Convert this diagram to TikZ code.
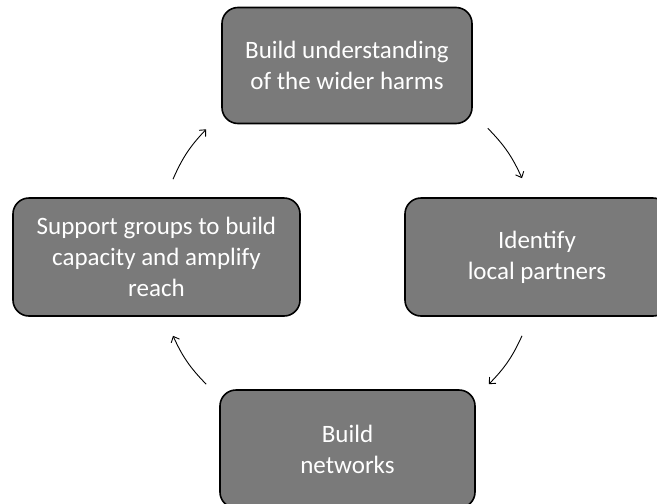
\documentclass[tikz,border=0pt]{standalone}
\usepackage{fontspec}
\setmainfont{Carlito}
\usepackage{tikz}
\usetikzlibrary{arrows.meta,positioning}

\begin{document}
\begin{tikzpicture}[
    x=1pt,y=-1pt,
    box/.style={rectangle,draw=black,line width=1.6pt,rounded corners=16pt,fill=black!52,
        text=white,align=center,font=\fontsize{25}{31}\selectfont},
    arrow/.style={-{Straight Barb[length=5pt,width=9pt]},line width=0.9pt,bend left=10}
]
    \clip (0,0) rectangle (657,504);

    \node[box,minimum width=250pt,minimum height=116pt] (harms) at (347,65.5) {Build understanding\\of the wider harms};
    \node[box,minimum width=264pt,minimum height=118pt] (partners) at (537,257) {Identify\\local partners};
    \node[box,minimum width=255pt,minimum height=118pt] (networks) at (347.5,449) {Build\\networks};
    \node[box,minimum width=287pt,minimum height=118pt] (support) at (156.5,257) {Support groups to build\\capacity and amplify\\reach};

    \draw[arrow] ([shift={(15pt,-4pt)}]harms.south east) to ([shift={(-15pt,19pt)}]partners.north);
    \draw[arrow] ([shift={(-15pt,-19pt)}]partners.south) to ([shift={(13pt,5pt)}]networks.north east);
    \draw[arrow] ([shift={(-13pt,5pt)}]networks.north west) to ([shift={(16.5pt,-19pt)}]support.south);
    \draw[arrow] ([shift={(16.5pt,18pt)}]support.north) to ([shift={(-15pt,-5pt)}]harms.south west);
\end{tikzpicture}
\end{document}
